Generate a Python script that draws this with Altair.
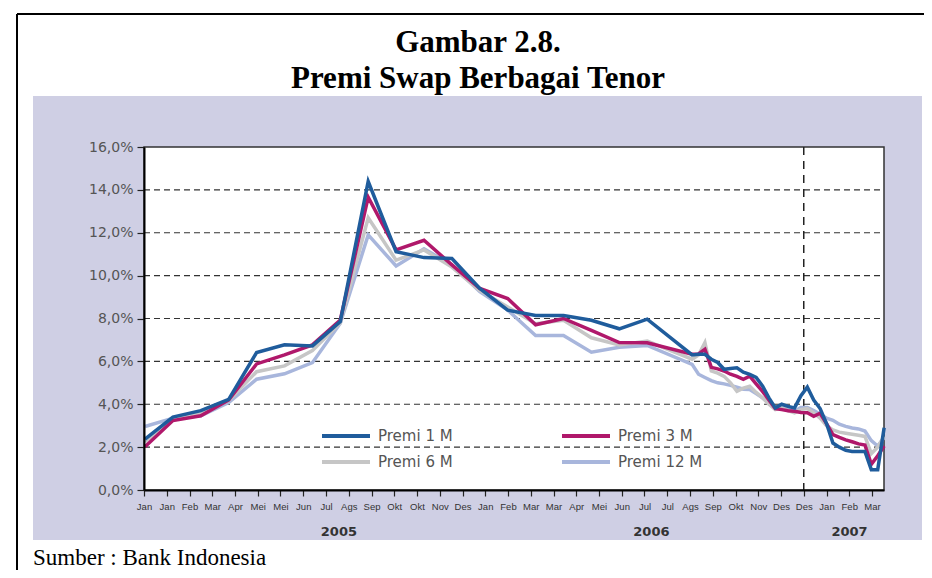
import json
import altair as alt
import pandas as pd

# ---------------- data ----------------
SERIES = ["Premi 1 M", "Premi 3 M", "Premi 6 M", "Premi 12 M"]
COLORS = ["#1f5c9c", "#b0186b", "#c6c6c6", "#a8b6dc"]

# monthly observations, Jan 2005 (month 0) .. Jul 2006 (month 18)
MONTHS = list(range(19))
M_1M = [2.37, 3.40, 3.70, 4.23, 6.41, 6.77, 6.72, 7.86, 14.39, 11.12, 10.84, 10.80, 9.40, 8.39, 8.14, 8.14, 7.92, 7.52, 7.97]
M_3M = [2.02, 3.24, 3.46, 4.20, 5.88, 6.30, 6.77, 7.93, 13.66, 11.20, 11.65, 10.50, 9.40, 8.93, 7.71, 8.00, 7.45, 6.88, 6.87]
M_6M = [2.25, 3.35, 3.60, 4.17, 5.52, 5.79, 6.50, 7.80, 12.70, 10.72, 11.20, 10.40, 9.30, 8.54, 7.76, 7.92, 7.10, 6.77, 6.95]
M_12M = [2.96, 3.35, 3.46, 4.08, 5.17, 5.42, 5.94, 7.78, 11.90, 10.45, 11.25, 10.50, 9.25, 8.39, 7.21, 7.21, 6.43, 6.66, 6.74]

# weekly observations, Aug 2006 .. mid Mar 2007 (in months since Jan 2005)
WEEKS = [19.61 + 0.2294 * k for k in range(31)]
W_1M = [6.30, 6.33, 6.33, 6.10, 5.95, 5.63, 5.67, 5.70, 5.50, 5.39, 5.25, 4.85, 4.30, 3.83, 4.00, 3.90,
        3.83, 4.40, 4.80, 4.20, 3.80, 3.10, 2.19, 2.00, 1.85, 1.80, 1.80, 1.80, 0.95, 0.95, 2.90]
W_3M = [6.33, 6.35, 6.56, 5.72, 5.65, 5.55, 5.40, 5.30, 5.16, 5.31, 4.95, 4.60, 4.20, 3.80, 3.75, 3.70,
        3.67, 3.62, 3.60, 3.44, 3.58, 3.10, 2.58, 2.45, 2.34, 2.25, 2.15, 2.10, 1.20, 1.60, 2.05]
W_6M = [6.10, 6.30, 6.88, 5.55, 5.45, 5.30, 5.00, 4.60, 4.75, 4.84, 4.55, 4.30, 4.00, 3.75, 3.83, 3.70,
        3.60, 3.75, 3.80, 3.60, 3.35, 3.00, 2.80, 2.70, 2.65, 2.60, 2.55, 2.50, 1.70, 2.00, 2.50]
W_12M = [5.86, 5.40, 5.25, 5.10, 5.00, 4.95, 4.88, 4.80, 4.70, 4.69, 4.50, 4.30, 4.06, 3.85, 3.94, 3.80,
         3.67, 3.85, 3.85, 3.70, 3.55, 3.35, 3.25, 3.07, 2.97, 2.89, 2.85, 2.75, 2.30, 2.05, 2.45]

TICK_LABELS = ["Jan", "Jan", "Feb", "Mar", "Apr", "Mei", "Mei", "Jun", "Jul", "Ags", "Sep", "Okt", "Okt",
               "Nov", "Des", "Jan", "Feb", "Mar", "Mar", "Apr", "Mei", "Jun", "Jul", "Jul", "Ags", "Sep",
               "Okt", "Nov", "Des", "Des", "Jan", "Feb", "Mar"]
YEARS = ["2005", "2006", "2007"]
YEAR_POS = [6.95, 18.15, 25.25]
Y_TICKS = [0, 2, 4, 6, 8, 10, 12, 14, 16]
GRID = [2, 4, 6, 8, 10, 12, 14]
MARKER_SLOT = 29  # dashed line at the second "Des" (end 2006)

TITLE = ["Gambar 2.8.", "Premi Swap Berbagai Tenor"]
SOURCE = "Sumber : Bank Indonesia"

# legend rows as in the reference
ROW1 = ["Premi 1 M", "Premi 3 M"]
ROW2 = ["Premi 6 M", "Premi 12 M"]

# ---------------- layout ----------------
W, H = 740, 343
MONTH_PX = 27.9
SLOT_PX = 22.75
TICK_VALUES = [(SLOT_PX * i - 1) / MONTH_PX for i in range(len(TICK_LABELS))]
X_DOMAIN = [TICK_VALUES[0], (W - 1) / MONTH_PX]

LAVENDER = "#cfcfe4"
NARROW = "Liberation Sans"
SANS = "DejaVu Sans"
SERIF = "Liberation Serif"

monthly = dict(zip(SERIES, [M_1M, M_3M, M_6M, M_12M]))
weekly = dict(zip(SERIES, [W_1M, W_3M, W_6M, W_12M]))


def frame(names):
    rows = []
    for s in names:
        for m, v in zip(MONTHS, monthly[s]):
            rows.append({"month": m, "value": v, "series": s})
        for m, v in zip(WEEKS, weekly[s]):
            rows.append({"month": m, "value": v, "series": s})
    return pd.DataFrame(rows)


xscale = alt.Scale(domain=X_DOMAIN, nice=False, zero=False)
yscale = alt.Scale(domain=[0, 16], nice=False, zero=True)

label_expr = json.dumps(TICK_LABELS) + f"[round((datum.value*{MONTH_PX}+1)/{SLOT_PX})]"
xaxis = alt.Axis(values=TICK_VALUES, labelExpr=label_expr, title=None, grid=False,
                 labelFont=NARROW, labelFontSize=9.5, labelColor="#333", labelOverlap=False,
                 labelFlush=False, labelBound=False, labelPadding=5,
                 tickSize=6, tickColor="#222", tickWidth=1.2,
                 domainColor="black", domainWidth=2, zindex=1)
yaxis = alt.Axis(values=Y_TICKS, labelExpr="replace(format(datum.value, '.1f'), '.', ',') + '%'",
                 title=None, grid=False, labelFont=SANS, labelFontSize=14, labelColor="#555",
                 labelPadding=4, tickSize=7, tickColor="#222", tickWidth=1.2,
                 domainColor="black", domainWidth=2, zindex=1)


def legend(y):
    return alt.Legend(title=None, orient="none", direction="horizontal", legendX=176, legendY=y,
                      columnPadding=101, symbolType="stroke", symbolSize=2304, symbolStrokeWidth=4,
                      labelFont=SANS, labelFontSize=15, labelColor="#555", labelOffset=6, padding=0)


one = pd.DataFrame({"a": [0]})

panel = alt.Chart(one).mark_rect(fill=LAVENDER).encode(
    x=alt.value(-111), x2=alt.value(778), y=alt.value(-51), y2=alt.value(393))
plotbg = alt.Chart(one).mark_rect(fill="white", stroke="#333", strokeWidth=1.5).encode(
    x=alt.value(0), x2=alt.value(W), y=alt.value(0), y2=alt.value(H))

grid = alt.Chart(pd.DataFrame({"v": GRID})).mark_rule(
    strokeDash=[6, 4], color="#333", strokeWidth=1.2).encode(
    y=alt.Y("v:Q", scale=yscale, axis=yaxis), x=alt.value(0), x2=alt.value(W))

marker = alt.Chart(pd.DataFrame({"m": [TICK_VALUES[MARKER_SLOT]]})).mark_rule(
    strokeDash=[8, 6], color="#222", strokeWidth=1.5).encode(
    x=alt.X("m:Q", scale=xscale, axis=xaxis), y=alt.value(0), y2=alt.value(H))

# longer tenors drawn first (underneath), 12M at the very bottom
lines_back = alt.Chart(frame(["Premi 12 M", "Premi 6 M"])).mark_line(strokeWidth=3.5).encode(
    x=alt.X("month:Q", scale=xscale, axis=xaxis),
    y=alt.Y("value:Q", scale=yscale, axis=yaxis),
    stroke=alt.Stroke("series:N",
                      scale=alt.Scale(domain=ROW2, range=[COLORS[SERIES.index(s)] for s in ROW2]),
                      legend=legend(289)),
)
lines_front = alt.Chart(frame(["Premi 3 M", "Premi 1 M"])).mark_line(strokeWidth=3.5).encode(
    x=alt.X("month:Q", scale=xscale, axis=xaxis),
    y=alt.Y("value:Q", scale=yscale, axis=yaxis),
    color=alt.Color("series:N",
                    scale=alt.Scale(domain=ROW1, range=[COLORS[SERIES.index(s)] for s in ROW1]),
                    legend=legend(263)),
)

years = alt.Chart(pd.DataFrame({"pos": YEAR_POS, "label": YEARS})).mark_text(
    font=SANS, fontWeight="bold", fontSize=13, color="#333", baseline="middle").encode(
    x=alt.X("pos:Q", scale=xscale, axis=xaxis), y=alt.value(385), text="label:N")

title1 = alt.Chart(one).mark_text(
    text=TITLE[0], font=SERIF, fontSize=31, fontWeight="bold", color="black",
    align="center", baseline="alphabetic").encode(x=alt.value(334), y=alt.value(-95))
title2 = alt.Chart(one).mark_text(
    text=TITLE[1], font=SERIF, fontSize=31, fontWeight="bold", color="black",
    align="center", baseline="alphabetic").encode(x=alt.value(334), y=alt.value(-59))

source = alt.Chart(one).mark_text(
    text=SOURCE, font=SERIF, fontSize=23, color="black",
    align="left", baseline="alphabetic").encode(x=alt.value(-111), y=alt.value(418))

frame_top = alt.Chart(one).mark_rule(color="black", strokeWidth=2).encode(
    x=alt.value(-127), x2=alt.value(800), y=alt.value(-133))
frame_left = alt.Chart(one).mark_rule(color="black", strokeWidth=2).encode(
    x=alt.value(-127), y=alt.value(-133), y2=alt.value(450))

chart = alt.layer(panel, plotbg, grid, marker, lines_back, lines_front, years, title1, title2,
                  source, frame_top, frame_left).properties(
    width=W, height=H,
    autosize=alt.AutoSizeParams(type="none"),
    padding={"left": 136, "top": 139, "right": 40, "bottom": 80},
).configure_view(stroke=None).configure(background="white")

chart.save("out.html", embed_options={"renderer": "svg", "actions": False})
